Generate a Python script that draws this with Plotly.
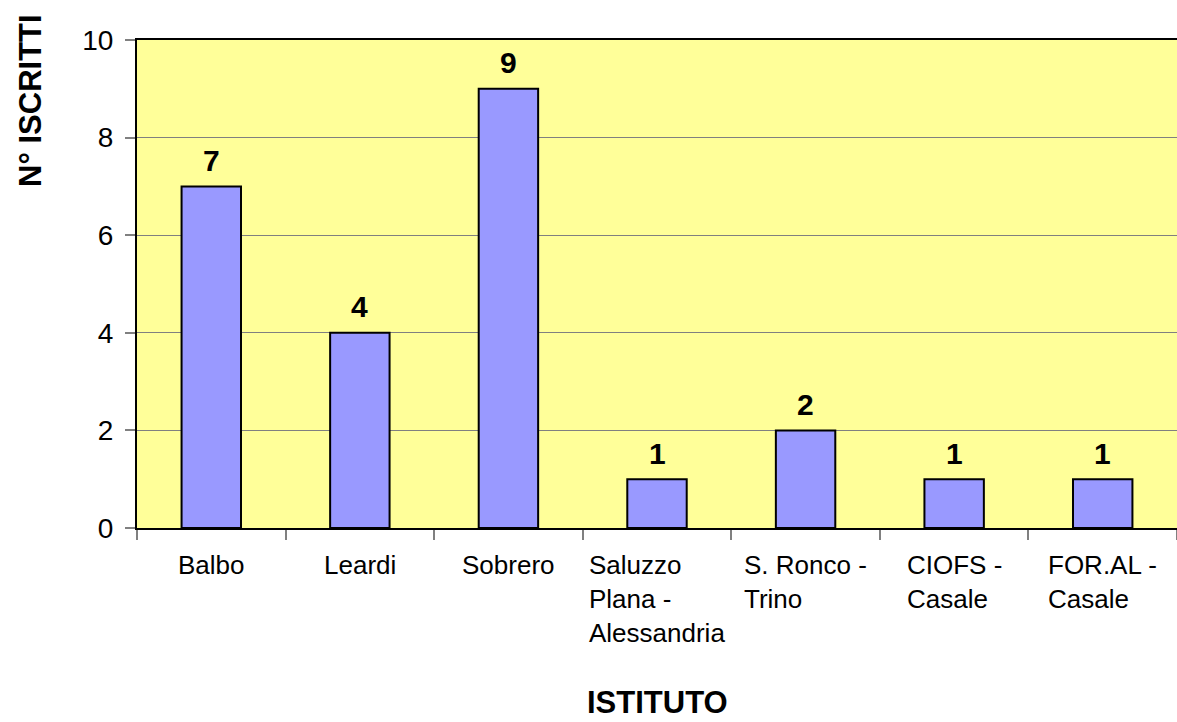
import plotly.graph_objects as go

categories = ["Balbo", "Leardi", "Sobrero", "Saluzzo Plana - Alessandria",
              "S. Ronco - Trino", "CIOFS - Casale", "FOR.AL - Casale"]
tick_labels = ["Balbo", "Leardi", "Sobrero", "Saluzzo<br>Plana -<br>Alessandria",
               "S. Ronco -<br>Trino", "CIOFS -<br>Casale", "FOR.AL -<br>Casale"]
iscritti = [7, 4, 9, 1, 2, 1, 1]

FONT = "Liberation Sans, Arial, sans-serif"

fig = go.Figure()
fig.add_trace(go.Bar(
    x=categories, y=iscritti, width=0.4,
    marker=dict(color="#9999FF", line=dict(color="black", width=2)),
    cliponaxis=False,
))

for c, v in zip(categories, iscritti):
    fig.add_annotation(x=c, y=v, xref="x", yref="y", yanchor="middle",
                       yshift=26, text=f"<b>{v}</b>", showarrow=False,
                       font=dict(family=FONT, size=30, color="black"))

for c, t in zip(categories, tick_labels):
    fig.add_annotation(x=c, xref="x", y=0, yref="paper", yanchor="top",
                       yshift=-20, text=t, showarrow=False, align="left",
                       font=dict(family=FONT, size=26, color="black"))

fig.add_annotation(text="<b>N° ISCRITTI</b>", xref="paper", yref="paper",
                   x=-0.103, y=0.877, xanchor="center", yanchor="middle",
                   textangle=-90, showarrow=False,
                   font=dict(family=FONT, size=31, color="black"))
fig.add_annotation(text="<b>ISTITUTO</b>", xref="paper", yref="paper",
                   x=0.5, y=-0.357, xanchor="center", yanchor="middle",
                   showarrow=False,
                   font=dict(family=FONT, size=31, color="black"))

fig.update_layout(
    width=1177, height=722,
    margin=dict(l=137, r=0, t=40, b=194),
    paper_bgcolor="white", plot_bgcolor="#FFFF99",
    showlegend=False,
    font=dict(family=FONT, color="black"),
)
fig.update_xaxes(
    range=[-0.5, 6.5], showticklabels=False, tickson="boundaries",
    ticks="outside", ticklen=10, tickcolor="#808080", tickwidth=2,
    showline=True, linecolor="black", linewidth=2, mirror=True,
    showgrid=False,
)
fig.update_yaxes(
    range=[0, 10], dtick=2, ticks="outside", ticklen=10, tickcolor="#808080",
    tickwidth=2, showline=True, linecolor="black", linewidth=2,
    showgrid=True, gridcolor="#808080", gridwidth=1, zeroline=False,
    tickfont=dict(family=FONT, size=28, color="black"), ticklabelstandoff=6,
)

fig.write_html(
    "out.html",
    config={"displayModeBar": False},
    post_script="document.body.style.margin='0';document.body.style.overflow='hidden';",
)
